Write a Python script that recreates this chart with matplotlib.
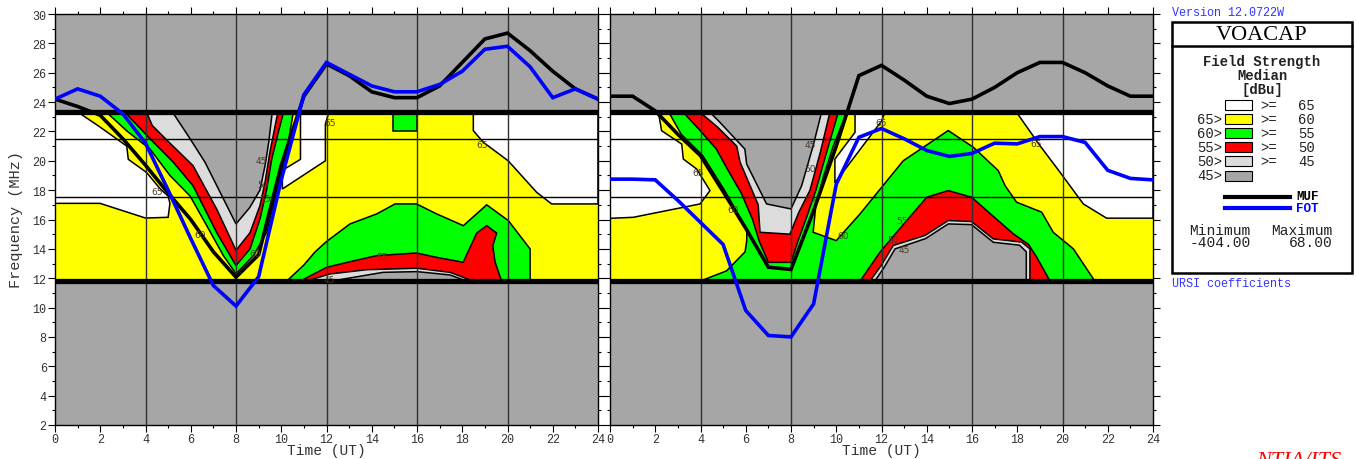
import matplotlib
matplotlib.use("Agg")
import matplotlib.pyplot as plt
from matplotlib.patches import Rectangle
from matplotlib.ticker import MultipleLocator

plt.rcParams["font.family"] = ["Liberation Mono", "DejaVu Sans Mono"]

W, H = 1356, 460

# ---- data -----------------------------------------------------------------
HOURS = list(range(25))
F_LO, F_HI = 11.8, 23.3          # computed frequency range (MHz)
MARKED_FREQS = [17.5, 21.5]      # horizontal reference frequencies
GRID_HOURS = [4, 8, 12, 16, 20]

LEFT_MUF = [24.2, 23.7, 23.1, 21.5, 19.7, 17.8, 16.0, 13.8, 12.07, 13.6, 19.7, 24.4,
            26.6, 25.8, 24.7, 24.3, 24.3, 25.1, 26.7, 28.3, 28.7, 27.5, 26.1, 24.9, 24.2]
LEFT_FOT = [24.2, 24.9, 24.4, 23.2, 21.2, 18.0, 14.7, 11.5, 10.1, 12.1, 18.7, 24.5,
            26.7, 25.9, 25.1, 24.7, 24.7, 25.2, 26.1, 27.6, 27.8, 26.4, 24.3, 24.9, 24.2]
RIGHT_MUF = [24.4, 24.4, 23.4, 21.8, 20.35, 17.9, 15.4, 12.75, 12.6, 16.6, 21.0, 25.8,
             26.5, 25.5, 24.4, 23.9, 24.2, 25.0, 26.0, 26.7, 26.7, 26.0, 25.1, 24.4, 24.4]
RIGHT_FOT = [18.75, 18.75, 18.7, 17.3, 15.8, 14.3, 9.8, 8.1, 8.0, 10.25, 18.4, 21.6,
             22.2, 21.5, 20.7, 20.3, 20.5, 21.2, 21.15, 21.65, 21.65, 21.25, 19.35, 18.8, 18.7]

# field strength bands (lower bound dBu) -> colour; 0 means "< 45"
BAND_COLORS = {65: "#ffffff", 60: "#ffff00", 55: "#00ff00", 50: "#ff0000",
               45: "#dcdcdc", 0: "#a6a6a6"}

# contour regions, (hour, MHz) vertices, painted in list order
L_WHITE_A = [(0, 23.3), (1.03, 23.3), (1.99, 22.3), (3.17, 21.0), (3.24, 20.1), (4.05, 19.2),
             (4.64, 18.1), (5.0, 17.6), (5.08, 17.1), (5.0, 16.15), (4.0, 16.1), (1.99, 17.1), (0, 17.1)]
L_WHITE_B = [(10.85, 23.3), (10.85, 20.1), (10.05, 19.35), (10.05, 18.08), (11.95, 20.0),
             (11.95, 22.5), (12.1, 23.3)]
L_WHITE_C = [(18.49, 23.3), (18.49, 22.05), (18.93, 21.26), (20.03, 20.0), (21.29, 17.85),
             (21.95, 17.06), (24, 17.06), (24, 23.3)]
L_GREEN_SQ = [(14.95, 23.3), (14.95, 22.05), (15.98, 22.05), (15.98, 23.3)]
L_V_GREEN = [(2.28, 23.3), (3.2, 22.0), (4.2, 20.8), (5.08, 19.0), (5.97, 17.6), (6.7, 15.6),
             (7.44, 13.54), (8.0, 12.3), (8.77, 13.54), (9.36, 15.13), (9.72, 17.4),
             (10.09, 19.67), (10.31, 21.26), (10.53, 23.3)]
L_V_RED = [(3.09, 23.3), (4.2, 21.5), (5.23, 19.9), (6.1, 18.3), (7.15, 15.1), (8.0, 12.86),
           (8.62, 14.0), (9.06, 16.04), (9.36, 18.08), (9.58, 20.12), (9.87, 21.94), (10.1, 23.3)]
L_V_LGRAY = [(4.05, 23.3), (4.3, 22.4), (5.08, 21.2), (6.1, 19.67), (7.15, 16.7), (8.0, 13.9),
             (8.62, 15.1), (9.06, 16.95), (9.28, 18.5), (9.5, 20.6), (9.85, 23.3)]
L_V_GRAY = [(5.2, 23.3), (5.97, 21.5), (6.63, 19.9), (8.0, 15.7), (8.6, 16.8), (9.06, 18.0),
            (9.3, 19.8), (9.45, 21.3), (9.6, 23.3)]
L_H_GREEN = [(10.24, 11.8), (11.0, 12.9), (11.5, 13.8), (12.0, 14.5), (13.04, 15.7),
             (14.22, 16.38), (15.03, 17.06), (15.98, 17.06), (16.87, 16.38), (18.05, 15.58),
             (19.08, 17.0), (20.04, 15.92), (21.0, 13.99), (21.0, 11.8)]
L_H_RED = [(10.83, 11.8), (12.0, 12.74), (13.04, 13.13), (14.22, 13.54), (15.98, 13.72),
           (16.87, 13.42), (18.04, 13.09), (18.64, 15.08), (19.08, 15.58), (19.52, 15.08),
           (19.35, 14.2), (19.45, 13.1), (19.74, 11.8)]
L_H_LGRAY = [(11.1, 11.8), (12.15, 12.29), (13.78, 12.58), (15.99, 12.68), (17.46, 12.4), (18.49, 11.8)]
L_H_GRAY = [(12.2, 11.8), (14.5, 12.4), (16.0, 12.45), (17.46, 12.22), (18.2, 11.8)]

R_WHITE_A = [(0, 23.3), (2.14, 23.3), (2.28, 22.05), (3.17, 21.14), (3.24, 20.12), (3.83, 19.44),
             (4.42, 17.97), (3.98, 17.06), (1.03, 16.15), (0, 16.08)]
R_WHITE_B = [(10.83, 23.3), (10.83, 21.94), (9.94, 20.12), (9.94, 18.5), (12.0, 22.7), (12.15, 23.3)]
R_WHITE_C = [(17.97, 23.3), (19.0, 21.04), (19.89, 19.22), (20.92, 17.06), (21.95, 16.09),
             (24, 16.09), (24, 23.3)]
R_GREEN = [(2.6, 23.3), (3.15, 21.8), (4.1, 20.35), (5.1, 17.9), (6.05, 15.3), (6.04, 14.5),
           (5.97, 13.8), (5.15, 12.5), (3.98, 11.8), (21.43, 11.8), (20.48, 14.0), (19.59, 15.13),
           (19.08, 16.5), (17.97, 17.18), (17.46, 18.31), (17.16, 19.33), (16.06, 20.92),
           (14.95, 22.06), (12.96, 20.0), (11.05, 16.38), (10.0, 14.56), (8.98, 15.13),
           (9.1, 17.0), (9.45, 19.0), (9.87, 21.0), (10.46, 23.3)]
R_V_RED = [(3.24, 23.3), (3.9, 22.2), (4.7, 20.8), (5.2, 19.4), (5.8, 17.8), (6.3, 16.0),
           (6.6, 14.5), (7.0, 13.08), (8.0, 13.08), (8.3, 14.5), (8.7, 16.2), (9.1, 18.0),
           (9.5, 20.2), (10.09, 23.3)]
R_V_LGRAY = [(3.98, 23.3), (4.75, 22.3), (5.6, 21.0), (5.75, 19.9), (6.55, 17.0), (6.63, 15.13),
             (7.95, 15.0), (8.35, 16.5), (8.84, 18.0), (9.3, 20.6), (9.72, 23.3)]
R_V_GRAY = [(4.42, 23.3), (4.79, 22.73), (5.96, 20.8), (6.04, 19.78), (6.92, 17.06), (8.0, 16.72),
            (8.47, 18.3), (8.98, 21.03), (9.35, 23.3)]
R_H_RED = [(11.05, 11.8), (11.93, 13.77), (12.67, 15.13), (14.0, 17.52), (14.95, 17.97),
           (15.98, 17.52), (17.1, 16.0), (17.83, 15.02), (18.5, 14.3), (18.86, 13.43), (19.45, 11.8)]
R_H_LGRAY = [(11.49, 11.8), (12.0, 12.9), (12.52, 14.23), (13.92, 14.91), (14.95, 15.93),
             (15.98, 15.86), (16.94, 14.68), (18.19, 14.46), (18.56, 14.0), (18.56, 11.8)]
R_H_GRAY = [(11.7, 11.8), (12.1, 12.7), (12.6, 14.0), (13.95, 14.7), (14.95, 15.7), (15.98, 15.65),
            (16.94, 14.45), (18.1, 14.25), (18.4, 13.8), (18.4, 11.8)]

LEFT_REGIONS = [(65, L_WHITE_A), (65, L_WHITE_B), (65, L_WHITE_C), (55, L_GREEN_SQ),
                (55, L_V_GREEN), (50, L_V_RED), (45, L_V_LGRAY), (0, L_V_GRAY),
                (55, L_H_GREEN), (50, L_H_RED), (45, L_H_LGRAY), (0, L_H_GRAY)]
RIGHT_REGIONS = [(65, R_WHITE_A), (65, R_WHITE_B), (65, R_WHITE_C), (55, R_GREEN),
                 (50, R_V_RED), (45, R_V_LGRAY), (0, R_V_GRAY),
                 (50, R_H_RED), (45, R_H_LGRAY), (0, R_H_GRAY)]

LEFT_LABELS = [(12.15, 22.6, "65"), (18.9, 21.1, "65"), (4.5, 17.9, "65"), (6.4, 15.0, "60"),
               (8.85, 13.7, "60"), (9.1, 20.0, "45"), (9.2, 18.4, "50"), (9.3, 17.45, "55"),
               (14.45, 13.5, "55"), (12.1, 11.9, "45")]
RIGHT_LABELS = [(3.9, 19.2, "65"), (5.45, 16.7, "60"), (8.85, 21.1, "45"), (8.85, 19.45, "50"),
                (8.85, 17.45, "55"), (10.3, 14.9, "60"), (12.0, 22.6, "65"), (18.85, 21.2, "65"),
                (12.9, 15.9, "55"), (12.5, 14.65, "50"), (13.0, 13.95, "45")]

LEGEND_BANDS = [65, 60, 55, 50, 45, 0]
LEGEND_LEFT = ["", "65>", "60>", "55>", "50>", "45>"]
LEGEND_RIGHT = ["65", "60", "55", "50", "45", ""]
FS_MIN, FS_MAX = -404.00, 68.00


def draw_panel(ax, regions, muf, fot, labels, show_ylabels):
    ax.set_facecolor(BAND_COLORS[0])
    ax.fill([0, 24, 24, 0], [F_LO, F_LO, F_HI, F_HI], color=BAND_COLORS[60], lw=0, zorder=1)
    for band, poly in regions:
        xs = [p[0] for p in poly]
        ys = [p[1] for p in poly]
        ax.fill(xs, ys, facecolor=BAND_COLORS[band], edgecolor="black", lw=1.1, zorder=2)
    ax.hlines(MARKED_FREQS, 0, 24, colors="black", lw=1.0, zorder=3)
    ax.vlines(GRID_HOURS, 2, 30, colors="#303030", lw=1.0, zorder=3)
    ax.hlines([F_LO, F_HI], 0, 24, colors="black", lw=3.8, zorder=4)
    ax.plot(HOURS, muf, color="black", lw=2.6, zorder=5, solid_joinstyle="miter")
    ax.plot(HOURS, fot, color="#0000ff", lw=2.6, zorder=6, solid_joinstyle="miter")
    for x, y, s in labels:
        ax.text(x, y, s, fontsize=6.5, color="#4a3a2a", ha="center", va="center",
                family="DejaVu Sans", zorder=7)

    ax.set_xlim(0, 24)
    ax.set_ylim(2, 30)
    ax.xaxis.set_major_locator(MultipleLocator(2))
    ax.xaxis.set_minor_locator(MultipleLocator(1))
    ax.yaxis.set_major_locator(MultipleLocator(2))
    ax.yaxis.set_minor_locator(MultipleLocator(1))
    ax.tick_params(which="both", direction="out", top=True, right=True, width=0.8,
                   labelsize=8.5, labelcolor="#333333", pad=1)
    ax.tick_params(which="major", length=5)
    ax.tick_params(which="minor", length=2.5)
    ax.tick_params(labelleft=show_ylabels)
    for sp in ax.spines.values():
        sp.set_linewidth(1.0)


fig = plt.figure(figsize=(W / 100, H / 100), dpi=100)
ax_l = fig.add_axes([55 / W, 34 / H, 543 / W, 411 / H])
ax_r = fig.add_axes([610 / W, 34 / H, 543 / W, 411 / H])
draw_panel(ax_l, LEFT_REGIONS, LEFT_MUF, LEFT_FOT, LEFT_LABELS, True)
draw_panel(ax_r, RIGHT_REGIONS, RIGHT_MUF, RIGHT_FOT, RIGHT_LABELS, False)

# overlay in pixel coordinates for legend and captions
ov = fig.add_axes([0, 0, 1, 1], zorder=10)
ov.set_xlim(0, W)
ov.set_ylim(H, 0)
ov.axis("off")

ov.text(16, 220, "Frequency (MHz)", rotation=90, ha="center", va="center", fontsize=11, color="#333333")
ov.text(326, 451, "Time (UT)", ha="center", va="center", fontsize=10.5, color="#333333")
ov.text(881, 451, "Time (UT)", ha="center", va="center", fontsize=10.5, color="#333333")

ov.text(1172, 13, "Version 12.0722W", ha="left", va="center", fontsize=8.5, color="#3333ff")
ov.text(1172, 284, "URSI coefficients", ha="left", va="center", fontsize=8.5, color="#3333ff")
ov.text(1256, 452, "NTIA/ITS", ha="left", va="top", fontsize=16, color="red",
        family="Liberation Serif", style="italic")

ov.add_patch(Rectangle((1172, 23), 180, 251, fill=False, lw=1.8, edgecolor="black"))
ov.plot([1172, 1352], [47, 47], color="black", lw=1.8)
ov.text(1262, 36, "VOACAP", ha="center", va="center", fontsize=16, family="Liberation Serif")
ov.text(1262, 62, "Field Strength", ha="center", va="center", fontsize=10, weight="bold", color="#222222")
ov.text(1262, 76, "Median", ha="center", va="center", fontsize=10, weight="bold", color="#222222")
ov.text(1262, 90, "[dBu]", ha="center", va="center", fontsize=10, weight="bold", color="#222222")

for i, band in enumerate(LEGEND_BANDS):
    yy = 106 + i * 14.1
    ov.add_patch(Rectangle((1225, yy - 5), 27, 10, facecolor=BAND_COLORS[band],
                           edgecolor="black", lw=0.8))
    if LEGEND_LEFT[i]:
        ov.text(1222, yy, LEGEND_LEFT[i], ha="right", va="center", fontsize=10, color="#222222")
    if LEGEND_RIGHT[i]:
        ov.text(1260, yy, ">=", ha="left", va="center", fontsize=10, color="#222222")
        ov.text(1315, yy, LEGEND_RIGHT[i], ha="right", va="center", fontsize=10, color="#222222")

ov.plot([1225, 1290], [198, 198], color="black", lw=3)
ov.plot([1225, 1290], [209, 209], color="#0000ff", lw=3)
ov.text(1296, 197, "MUF", ha="left", va="center", fontsize=9, weight="bold", color="black")
ov.text(1296, 209, "FOT", ha="left", va="center", fontsize=9, weight="bold", color="#0000ff")

ov.text(1220, 231, "Minimum", ha="center", va="center", fontsize=10.5, color="#222222")
ov.text(1302, 231, "Maximum", ha="center", va="center", fontsize=10.5, color="#222222")
ov.text(1220, 243, f"{FS_MIN:.2f}", ha="center", va="center", fontsize=10.5, color="#222222")
ov.text(1333, 243, f"{FS_MAX:.2f}", ha="right", va="center", fontsize=10.5, color="#222222")

fig.savefig("out.png", dpi=100)
